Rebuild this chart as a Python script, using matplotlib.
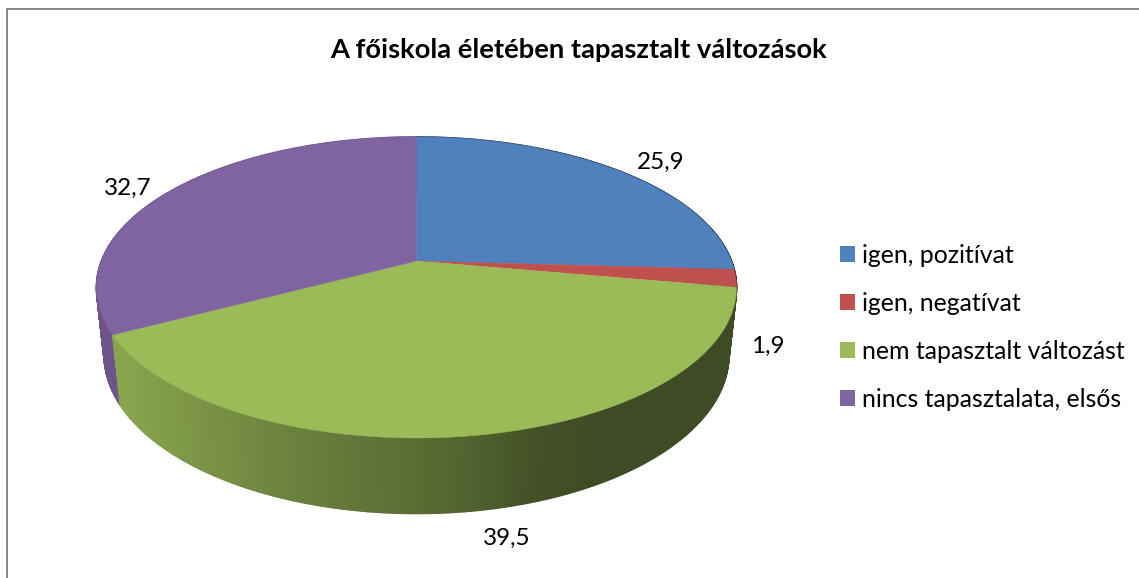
import numpy as np
import matplotlib
matplotlib.use("Agg")
import matplotlib.pyplot as plt
from matplotlib.collections import PolyCollection
from matplotlib.patches import Patch

categories = ["igen, pozitívat", "igen, negatívat", "nem tapasztalt változást", "nincs tapasztalata, elsős"]
values = [25.9, 1.9, 39.5, 32.7]
value_labels = ["25,9", "1,9", "39,5", "32,7"]
colors = ["#4F81BD", "#C0504D", "#9BBB59", "#8064A2"]
title = "A főiskola életében tapasztalt változások"

plt.rcParams['font.family'] = ['Lato', 'DejaVu Sans']

# pie camera, in figure pixels
CX = 416.5
K = 315.0
C = 0.176
A = -99.9
B_TOP = 261.0
B_BOT = 335.5
D_BOT = 0.024


def project(theta, bottom=False):
    # theta in degrees, clockwise from the top of the pie
    t = np.radians(theta)
    u, v = np.sin(t), np.cos(t)
    d = D_BOT if bottom else 0.0
    b = B_BOT if bottom else B_TOP
    den = 1 + C * v + d
    return CX + K * u / den, (A * v + b) / den


def darker(color, f):
    rgb = np.array(matplotlib.colors.to_rgb(color))
    return tuple(rgb * f)


fig = plt.figure(figsize=(11.39, 5.78), dpi=100)
ax = fig.add_axes([0, 0, 1, 1])
ax.set_xlim(0, 1139)
ax.set_ylim(578, 0)
ax.axis("off")

edges = np.concatenate([[0], np.cumsum(values)]) / np.sum(values) * 360

# side wall, darkens from left to right
shade_x = [97, 121, 200, 280, 300, 450, 540, 600, 740]
shade_f = [0.88, 0.88, 0.79, 0.70, 0.68, 0.55, 0.43, 0.40, 0.40]
for i, col in enumerate(colors):
    th = np.arange(edges[i], edges[i + 1] + 0.5, 0.5)
    th[-1] = edges[i + 1]
    xt, yt = project(th)
    xb, yb = project(th, bottom=True)
    quads = []
    face = []
    for j in range(len(th) - 1):
        quads.append([(xt[j], yt[j]), (xt[j + 1], yt[j + 1]), (xb[j + 1], yb[j + 1]), (xb[j], yb[j])])
        if col == colors[3]:
            face.append(darker(col, 0.85))
        else:
            face.append(darker(col, np.interp((xt[j] + xt[j + 1]) / 2, shade_x, shade_f)))
    ax.add_collection(PolyCollection(quads, facecolors=face, edgecolors=face, linewidths=1.2, zorder=2 + (i == 2)))

# top face
for i, col in enumerate(colors):
    th = np.linspace(edges[i], edges[i + 1], 200)
    xt, yt = project(th)
    ax.fill(np.r_[CX, xt], np.r_[B_TOP, yt], color=col, lw=0.3, zorder=4)

# value labels
label_x = [661, 768, 507, 128]
label_y = [162, 346, 538, 188]
for x, y, s in zip(label_x, label_y, value_labels):
    ax.text(x, y, s, ha="center", va="center", fontsize=17.5, color="black", zorder=5)

ax.text(579, 50, title, ha="center", va="center", fontsize=19.7, fontweight="bold", color="black")

# chart frame, only top and left show
ax.plot([6.5, 6.5, 1139], [578, 8.5, 8.5], color="#868686", lw=1.4, solid_joinstyle="miter", clip_on=False)

handles = [Patch(facecolor=c, edgecolor="none") for c in colors]
fs = 17.9
leg = ax.legend(handles, categories, loc="upper left", bbox_to_anchor=(840 / 1139, 1 - 244 / 578),
                frameon=False, fontsize=fs, borderpad=0, borderaxespad=0,
                handlelength=10.8 / fs, handleheight=10.8 / fs, handletextpad=0.28, labelspacing=1.0)

fig.savefig("out.png", dpi=100)
